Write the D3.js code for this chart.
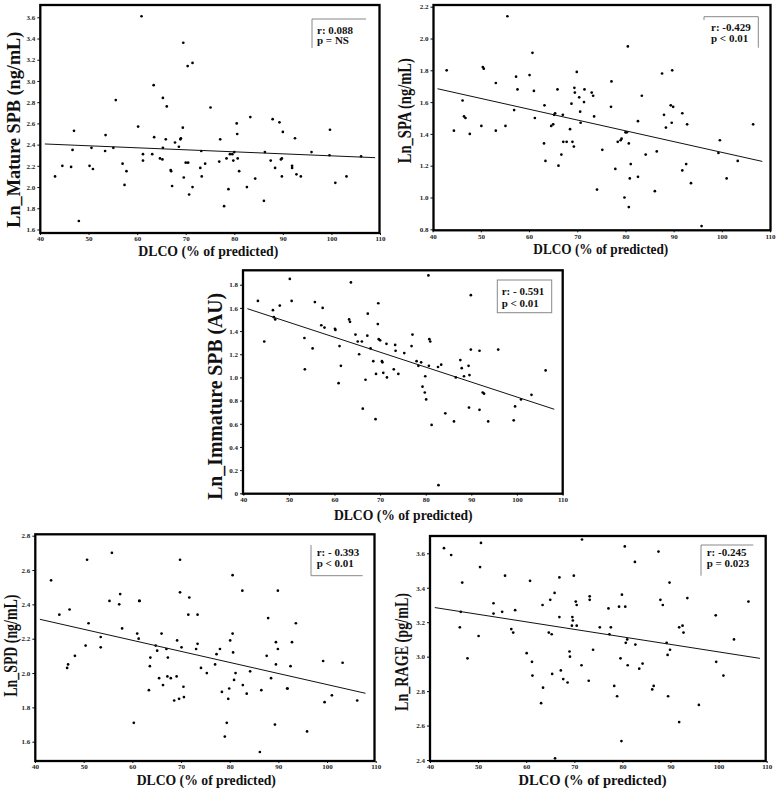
<!DOCTYPE html>
<html><head><meta charset="utf-8">
<script src="https://cdn.jsdelivr.net/npm/d3@7/dist/d3.min.js"></script>
<style>body{margin:0;background:#fff;}svg{display:block;}</style>
</head><body>
<svg id="chart" width="780" height="791"></svg>
<script>
// ---------- DATA ----------
const xTicks = [40, 50, 60, 70, 80, 90, 100, 110];
const yTicksMature = [1.6, 1.8, 2.0, 2.2, 2.4, 2.6, 2.8, 3.0, 3.2, 3.4, 3.6];
const yTicksSPA = [0.8, 1.0, 1.2, 1.4, 1.6, 1.8, 2.0, 2.2];
const yTicksImmature = [0, 0.2, 0.4, 0.6, 0.8, 1.0, 1.2, 1.4, 1.6, 1.8];
const yTicksSPD = [1.6, 1.8, 2.0, 2.2, 2.4, 2.6, 2.8];
const yTicksRAGE = [2.4, 2.6, 2.8, 3.0, 3.2, 3.4, 3.6];

const dlcoMature = [43.1,44.6,46.4,46.7,47.0,48.0,50.2,50.6,50.9,53.4,53.5,55.1,55.6,57.0,57.4,57.8,60.2,60.9,61.2,61.2,63.1,63.4,63.5,64.7,65.2,65.3,65.3,65.9,66.1,66.9,67.0,67.2,67.8,68.6,68.9,69.0,69.4,69.5,69.6,70.0,70.5,70.4,70.7,71.4,71.4,73.0,73.2,73.3,74.0,75.1,76.9,77.1,77.9,78.4,78.8,79.1,79.6,79.8,80.0,80.5,80.6,80.7,81.0,82.6,83.3,84.3,86.1,86.3,87.5,87.9,88.4,89.3,89.6,89.8,89.8,90.0,91.9,91.9,92.5,92.8,93.7,95.9,99.6,99.7,100.8,103.1,106.1];
const lnMatureSPB = [2.10,2.20,2.19,2.35,2.53,1.68,2.20,2.37,2.17,2.34,2.49,2.37,2.82,2.22,2.02,2.15,2.57,3.61,2.31,2.25,2.31,2.96,2.47,2.27,2.26,2.84,2.37,2.45,2.76,2.16,2.15,2.01,2.42,2.38,2.45,2.46,2.56,3.36,2.09,2.23,2.23,3.14,1.93,3.17,2.00,2.18,2.34,2.10,2.22,2.75,2.24,2.45,1.82,2.27,1.98,2.31,2.31,2.25,2.33,2.60,2.50,2.27,2.15,2.00,2.66,2.08,1.87,2.33,2.25,2.64,2.18,2.61,2.26,2.27,2.10,2.52,2.20,2.18,2.46,2.12,2.10,2.33,2.30,2.54,2.04,2.10,2.29];
const fitMatureX = [41.0, 109.0];
const fitMatureY = [2.406, 2.277];

const dlcoSPA = [42.9,44.4,46.2,46.5,46.8,47.7,50.1,50.4,50.6,53.1,53.1,55.1,55.5,56.9,57.3,57.6,60.1,60.7,61.0,61.2,63.1,63.2,63.4,64.6,65.0,65.2,65.4,65.9,66.1,66.7,67.0,67.1,67.8,68.5,68.8,69.0,69.3,69.4,69.5,69.9,70.4,70.6,70.7,71.4,71.5,73.0,73.3,73.5,74.1,75.2,77.0,77.1,77.9,78.4,79.0,79.2,79.8,80.0,80.3,80.5,80.7,80.7,80.9,81.1,82.6,82.6,83.4,84.2,86.1,86.5,87.6,88.0,88.4,89.4,89.6,89.7,89.9,91.8,91.8,92.6,92.8,93.6,95.8,99.3,99.6,101.0,103.3,106.5];
const lnSPA = [1.80,1.42,1.61,1.51,1.50,1.40,1.45,1.82,1.81,1.72,1.42,1.45,2.14,1.55,1.76,1.68,1.77,1.91,1.67,1.50,1.34,1.58,1.23,1.45,1.46,1.52,1.53,1.68,1.20,1.27,1.52,1.35,1.35,1.43,1.59,1.35,1.32,1.69,1.66,1.79,1.63,1.54,1.47,1.60,1.68,1.66,1.64,1.51,1.05,1.30,1.57,1.73,1.18,1.35,1.36,1.37,1.00,1.41,1.41,1.95,1.34,0.94,1.12,1.21,1.13,1.48,1.64,1.27,1.04,1.29,1.78,1.52,1.44,1.58,1.47,1.80,1.57,1.53,1.17,1.21,1.46,1.09,0.82,1.28,1.36,1.12,1.23,1.46];
const fitSPAX = [41.0, 108.4];
const fitSPAY = [1.684, 1.227];

const dlcoImmature = [43.2,44.6,46.5,46.7,47.0,48.0,50.2,50.6,53.4,53.5,55.2,55.7,57.1,57.4,57.8,60.1,60.2,60.9,61.1,61.4,63.2,63.4,63.6,64.6,65.1,65.4,66.0,66.2,66.8,67.2,67.3,67.9,68.5,69.0,69.1,69.5,69.6,69.7,70.0,70.4,70.5,70.7,71.4,71.5,73.0,73.3,73.4,74.0,75.3,76.9,77.1,78.0,78.4,79.0,79.3,79.8,79.9,80.1,80.6,80.7,80.8,81.0,81.3,82.7,82.8,83.4,84.3,86.2,86.6,87.6,87.9,88.4,89.4,89.6,89.5,89.9,89.9,91.8,91.8,92.5,92.8,93.7,95.9,99.3,99.6,100.9,103.2,106.3];
const lnImmatureSPB = [1.66,1.31,1.58,1.52,1.50,1.62,1.85,1.66,1.34,1.07,1.25,1.65,1.45,1.60,1.43,1.42,1.41,0.95,1.27,1.10,1.50,1.48,1.82,1.37,1.31,1.20,1.31,0.73,0.98,1.36,1.55,1.25,1.14,0.64,1.03,1.46,1.64,1.33,1.32,1.14,1.13,1.04,1.29,1.00,1.07,1.28,1.23,1.03,1.21,1.27,1.37,1.14,1.10,1.13,0.92,0.87,1.01,0.81,1.88,1.10,1.33,1.31,0.59,1.09,0.07,1.11,0.69,0.62,1.00,1.15,1.08,1.01,1.10,1.02,0.74,1.71,1.24,1.23,0.72,0.87,0.86,0.62,1.24,0.63,0.75,0.81,0.85,1.06];
const fitImmatureX = [40.9, 108.2];
const fitImmatureY = [1.593, 0.725];

const dlcoSPD = [43.3,45.0,46.6,46.8,47.1,48.2,50.4,50.7,51.0,53.5,53.5,55.3,55.8,57.3,57.5,57.9,60.3,61.0,61.3,61.4,61.5,63.4,63.6,63.7,64.8,65.1,65.5,66.0,66.3,67.0,67.2,67.3,67.9,68.6,69.1,69.2,69.6,69.8,69.8,70.1,70.5,70.6,71.5,71.7,73.1,73.4,73.4,74.1,75.3,77.0,77.3,78.0,78.4,79.0,79.4,79.7,79.9,80.1,80.6,80.6,80.7,80.9,81.2,82.6,82.7,83.5,84.2,86.2,86.5,87.6,87.9,88.5,89.3,89.5,89.5,89.9,89.9,91.8,91.9,92.5,92.8,93.6,95.9,99.2,99.5,101.0,103.2,106.2];
const lnSPD = [2.54,2.34,2.03,2.05,2.37,2.10,2.16,2.66,2.29,2.21,2.15,2.42,2.70,2.40,2.46,2.26,1.71,2.23,2.20,2.42,2.42,1.90,2.04,2.09,2.16,2.13,1.97,2.23,1.93,2.14,1.98,2.09,1.97,1.84,1.98,2.19,1.85,2.66,2.47,2.15,1.92,1.86,2.34,2.44,2.14,2.34,2.17,2.03,2.00,2.05,2.11,2.14,1.89,1.63,1.71,1.85,1.91,2.19,2.57,2.23,2.12,1.96,2.00,2.48,1.93,1.88,2.01,1.54,1.90,2.10,2.32,1.97,1.70,2.05,2.18,2.48,2.14,1.91,1.91,2.04,2.18,2.29,1.66,2.07,1.83,1.87,2.06,1.84];
const fitSPDX = [41.0, 107.9];
const fitSPDY = [2.313, 1.882];

const dlcoRAGE = [42.9,44.4,46.2,46.4,46.7,47.8,50.1,50.4,50.6,53.2,53.2,55.0,55.6,56.9,57.3,57.7,60.1,60.8,61.2,61.3,63.1,63.4,63.5,64.7,65.0,65.4,65.3,65.9,66.9,66.9,67.2,67.7,68.6,69.0,69.1,69.5,69.6,69.7,69.9,70.3,70.5,70.5,71.5,71.6,73.0,73.2,73.2,73.9,75.3,77.1,77.3,77.6,78.3,78.9,79.3,79.6,79.9,80.5,80.6,80.7,81.0,81.1,82.6,82.7,83.5,84.2,86.2,86.5,87.5,87.9,88.4,89.2,89.4,89.5,89.8,89.9,91.8,91.8,92.5,92.7,93.5,95.9,99.4,99.5,101.0,103.2,106.2,79.8,66.0];
const lnRAGE = [3.63,3.59,3.17,3.26,3.43,2.99,3.12,3.52,3.66,3.31,3.25,3.26,3.47,3.16,3.14,3.27,3.02,3.44,2.97,2.89,2.73,3.30,2.82,3.14,3.33,2.90,3.13,3.37,3.23,3.46,2.92,2.87,2.85,3.03,3.00,3.18,3.23,3.21,3.47,3.32,3.30,3.18,2.95,3.68,2.86,3.35,3.33,3.04,3.17,3.28,3.13,3.17,2.83,2.77,3.29,2.99,3.36,3.64,3.29,3.08,3.10,2.95,3.55,3.07,2.93,2.96,2.81,2.83,3.61,3.33,3.30,3.08,3.01,2.77,3.43,3.04,3.17,2.62,3.18,3.14,3.34,2.72,3.24,2.97,2.89,3.10,3.32,2.51,2.41];
const fitRAGEX = [41.0, 108.6];
const fitRAGEY = [3.285, 2.990];

const yTitles = ["Ln_Mature SPB (ng/mL)", "Ln_SPA (ng/mL)", "Ln_Immature SPB (AU)", "Ln_SPD (ng/mL)", "Ln_RAGE (pg/mL)"];
const xTitle = "DLCO (% of predicted)";
const statLines = [["r: 0.088", "p = NS"], ["r: -0.429", "p < 0.01"], ["r: - 0.591", "p < 0.01"], ["r: - 0.393", "p < 0.01"], ["r: -0.245", "p = 0.023"]];

// ---------- LAYOUT ----------
const panels = [
  { xs: dlcoMature, ys: lnMatureSPB, fx: fitMatureX, fy: fitMatureY, yt: yTicksMature,
    frame: {l: 40.3, r: 379.5, t: 5, b: 233}, xr: [40, 380], yd: [1.6, 3.6], yr: [229.5, 17.3],
    yLab: {x: 20, y: 129.7, len: 196, fs: 18}, xLab: {x: 208.3, y: 256, len: 140},
    box: {segs: [[312, 19, 366, 19], [312, 19, 312, 48]], tx: 317, ty: [33.5, 44]} },
  { xs: dlcoSPA, ys: lnSPA, fx: fitSPAX, fy: fitSPAY, yt: yTicksSPA,
    frame: {l: 433.5, r: 770.5, t: 5, b: 230.3}, xr: [432.7, 770], yd: [0.8, 2.2], yr: [229.3, 6.7],
    yLab: {x: 410.7, y: 110.7, len: 105, fs: 18}, xLab: {x: 600.8, y: 253.5, len: 135},
    box: {segs: [[704, 16.7, 758.3, 16.7], [758.3, 16.7, 758.3, 47.7], [704, 16.7, 704, 20]], tx: 711, ty: [30.5, 41.5]} },
  { xs: dlcoImmature, ys: lnImmatureSPB, fx: fitImmatureX, fy: fitImmatureY, yt: yTicksImmature,
    frame: {l: 243, r: 562.7, t: 270.3, b: 493.7}, xr: [243.3, 562.5], yd: [0, 1.8], yr: [493.3, 284.7],
    yLab: {x: 221.7, y: 396.3, len: 207, fs: 20}, xLab: {x: 403.3, y: 519.5, len: 138.7},
    box: {rect: [497.3, 280, 54.4, 32.7], tx: 501.7, ty: [295, 306.5]} },
  { xs: dlcoSPD, ys: lnSPD, fx: fitSPDX, fy: fitSPDY, yt: yTicksSPD,
    frame: {l: 35.3, r: 374.5, t: 534.3, b: 761}, xr: [35, 375.7], yd: [1.6, 2.8], yr: [741.7, 535.7],
    yLab: {x: 16.7, y: 645.7, len: 102, fs: 18}, xLab: {x: 206.3, y: 784.5, len: 139.3},
    box: {segs: [[311, 545, 311, 575.7], [311, 575.7, 362.7, 575.7]], tx: 316.7, ty: [556, 566.5]} },
  { xs: dlcoRAGE, ys: lnRAGE, fx: fitRAGEX, fy: fitRAGEY, yt: yTicksRAGE,
    frame: {l: 430, r: 765.7, t: 536, b: 761}, xr: [430, 766.7], yd: [2.4, 3.6], yr: [760, 553.3],
    yLab: {x: 408.3, y: 652, len: 118, fs: 18}, xLab: {x: 592.5, y: 784.5, len: 148},
    box: {segs: [[701, 545, 701, 575.7], [701, 545, 753.3, 545]], tx: 706.7, ty: [556, 567]} }
];

const svg = d3.select("#chart");
const serif = "'Liberation Serif', 'Times New Roman', serif";

panels.forEach((p, i) => {
  const x = d3.scaleLinear().domain([40, 110]).range(p.xr);
  const y = d3.scaleLinear().domain(p.yd).range(p.yr);
  const g = svg.append("g");
  const f = p.frame;

  // axes (ticks + labels) via d3 axis
  const xAxis = d3.axisBottom(x).tickValues(xTicks).tickSize(2).tickPadding(1.5).tickFormat(d3.format("d"));
  const gx = g.append("g").attr("transform", `translate(0,${f.b})`).call(xAxis);
  const yAxis = d3.axisLeft(y).tickValues(p.yt).tickSize(3).tickPadding(2)
    .tickFormat(d => d === 0 ? "0" : d3.format(".1f")(d));
  const gy = g.append("g").attr("transform", `translate(${f.l},0)`).call(yAxis);
  [gx, gy].forEach(a => {
    a.select(".domain").remove();
    a.selectAll(".tick line").attr("stroke", "#111").attr("stroke-width", 1);
    a.selectAll(".tick text").attr("font-family", serif).attr("font-size", 7)
      .attr("font-weight", "bold").attr("fill", "#222");
  });

  // points
  g.append("g").selectAll("circle").data(p.xs.map((v, k) => [v, p.ys[k]])).join("circle")
    .attr("cx", d => x(d[0])).attr("cy", d => y(d[1])).attr("r", 1.35).attr("fill", "#000");

  // fit line
  g.append("line")
    .attr("x1", x(p.fx[0])).attr("y1", y(p.fy[0]))
    .attr("x2", x(p.fx[1])).attr("y2", y(p.fy[1]))
    .attr("stroke", "#111").attr("stroke-width", 1);

  // frame
  g.append("rect").attr("x", f.l).attr("y", f.t).attr("width", f.r - f.l).attr("height", f.b - f.t)
    .attr("fill", "none").attr("stroke", "#000").attr("stroke-width", 2.3);

  // stats box
  const b = p.box;
  if (b.rect) {
    g.append("rect").attr("x", b.rect[0]).attr("y", b.rect[1]).attr("width", b.rect[2]).attr("height", b.rect[3])
      .attr("fill", "#fff").attr("stroke", "#888").attr("stroke-width", 1);
  }
  (b.segs || []).forEach(s => {
    g.append("line").attr("x1", s[0]).attr("y1", s[1]).attr("x2", s[2]).attr("y2", s[3])
      .attr("stroke", "#888").attr("stroke-width", 1);
  });
  statLines[i].forEach((t, k) => {
    g.append("text").attr("x", b.tx).attr("y", b.ty[k]).text(t)
      .attr("font-family", serif).attr("font-size", 11).attr("font-weight", "bold").attr("fill", "#111");
  });

  // axis titles
  g.append("text").attr("transform", `translate(${p.yLab.x},${p.yLab.y}) rotate(-90)`)
    .attr("text-anchor", "middle").attr("font-family", serif).attr("font-weight", "bold")
    .attr("font-size", p.yLab.fs).attr("textLength", p.yLab.len).attr("lengthAdjust", "spacingAndGlyphs")
    .attr("fill", "#111").text(yTitles[i]);
  g.append("text").attr("x", p.xLab.x).attr("y", p.xLab.y)
    .attr("text-anchor", "middle").attr("font-family", serif).attr("font-weight", "bold")
    .attr("font-size", 14.5).attr("textLength", p.xLab.len).attr("lengthAdjust", "spacingAndGlyphs")
    .attr("fill", "#111").text(xTitle);
});
</script>
</body></html>
